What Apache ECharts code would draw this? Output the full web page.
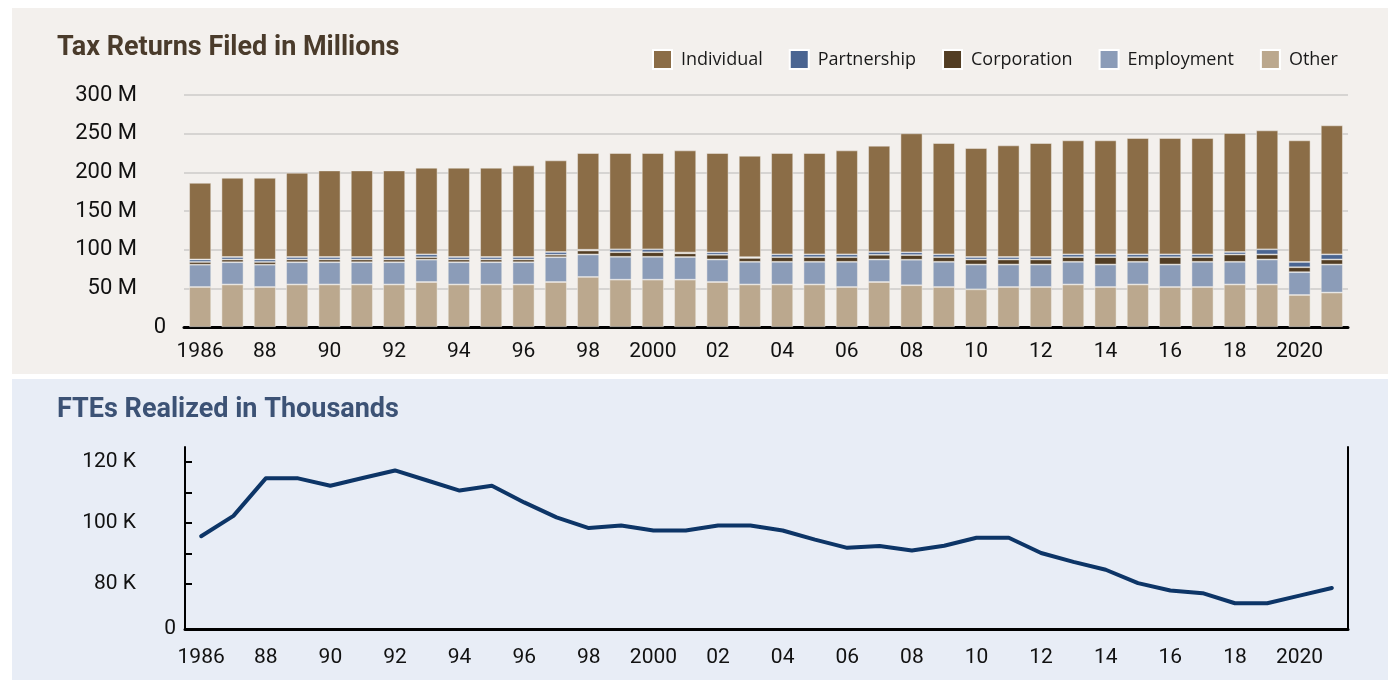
<!DOCTYPE html>
<html><head><meta charset="utf-8">
<script src="https://cdn.jsdelivr.net/npm/echarts@6.0.0/dist/echarts.min.js"></script>
<style>
html,body{margin:0;padding:0;background:#fff;overflow:hidden;}
#p1{position:absolute;left:12px;top:8px;width:1376px;height:366px;background:#f3f0ed;}
#p2{position:absolute;left:12px;top:379px;width:1376px;height:301px;background:#e8edf6;}
#chart{position:absolute;left:0;top:0;width:1388px;height:680px;}
</style></head><body>
<div id="p1"></div><div id="p2"></div><div id="chart"></div>
<script>
const years = ['1986','1987','1988','1989','1990','1991','1992','1993','1994','1995','1996','1997','1998','1999','2000','2001','2002','2003','2004','2005','2006','2007','2008','2009','2010','2011','2012','2013','2014','2015','2016','2017','2018','2019','2020','2021'];
const individual = [99.1,102.4,105.6,108.9,111.9,111.9,111.9,111.9,115.4,115.4,118.4,118.4,125.0,124.4,124.4,132.0,128.3,131.1,130.9,130.9,134.3,137.4,153.8,143.8,140.8,144.3,147.3,147.3,147.3,150.3,150.3,150.3,153.8,153.7,157.2,166.7];
const partnership = [3.2,3.2,3.2,3.2,3.2,3.2,3.2,3.7,3.2,3.2,3.2,3.5,1.0,3.8,3.8,1.0,3.2,1.0,3.7,3.7,3.7,3.6,3.6,3.7,3.2,3.2,3.2,3.7,3.7,3.7,3.7,3.7,3.2,6.7,6.8,6.7];
const corporation = [3.5,3.5,3.5,3.5,3.5,3.5,3.5,3.2,3.5,3.5,3.5,3.2,5.1,5.9,5.9,4.8,6.1,5.0,6.0,6.0,6.0,6.1,6.0,6.0,6.5,6.5,6.5,6.0,9.5,6.0,9.5,6.0,9.5,6.5,6.4,6.5];
const employment = [28.9,28.8,28.9,28.8,28.8,28.8,28.8,28.9,28.8,28.8,28.8,32.1,29.1,29.6,29.6,29.3,29.1,29.3,29.3,29.3,32.6,29.1,33.0,32.6,32.1,29.1,29.1,29.3,29.1,29.3,29.1,32.6,29.3,32.3,29.5,36.3];
const other = [51.7,55.0,51.7,55.0,55.0,55.0,55.0,58.2,55.0,55.0,55.0,58.2,64.7,61.2,61.2,61.2,58.2,55.0,55.0,55.0,51.7,58.2,54.0,51.7,48.7,51.7,51.7,55.0,51.7,55.0,51.7,51.7,55.0,55.0,41.4,44.5];
const ftes = [95.7,102.4,114.7,114.7,112.3,114.8,117.3,114.0,110.7,112.3,106.8,101.9,98.4,99.2,97.6,97.6,99.2,99.2,97.6,94.6,91.9,92.5,91.0,92.6,95.2,95.2,90.2,87.3,84.7,80.3,77.9,77.0,73.7,73.7,76.2,78.7];
const topLabelValues = [50,100,150,200,250,300];
const topZeroValue = [0];
const fteLabelValues = [80,100,120];
const fteZeroValue = [65.25];
const fteTickValues = [80,90,100,110,120];

const FONT = 'Roboto';
const colors = {Individual:'#8b6d47', Partnership:'#4a6592', Corporation:'#523d23', Employment:'#8b9cb8', Other:'#bba88e'};
function yearLabel(v){ return (v==='1986'||v==='2000'||v==='2020') ? v : v.slice(2); }

const chart = echarts.init(document.getElementById('chart'), null, {renderer:'canvas'});
function barSeries(name, data){
  return {name, type:'bar', stack:'total', data, xAxisIndex:0, yAxisIndex:0, barWidth:22,
    itemStyle:{color:colors[name], borderColor:'rgba(243,240,237,0.6)', borderWidth:0.8}};
}
const hidden = {axisLine:{show:false}, axisTick:{show:false}, splitLine:{show:false}};
chart.setOption({
  backgroundColor:'transparent',
  animation:false,
  textStyle:{fontFamily:FONT},
  title:[
    {text:'Tax Returns Filed in Millions', left:52, top:30, textStyle:{fontFamily:FONT, fontSize:27, fontWeight:'bold', color:'#4a3b2b'}},
    {text:'FTEs Realized in Thousands', left:52, top:392, textStyle:{fontFamily:FONT, fontSize:27, fontWeight:'bold', color:'#3c5275'}}
  ],
  legend:{
    data:['Individual','Partnership','Corporation','Employment','Other'],
    left:652, top:49, padding:0, itemWidth:19, itemHeight:19, itemGap:26, icon:'rect',
    itemStyle:{borderColor:'#ffffff', borderWidth:2},
    textStyle:{fontFamily:'Open Sans', fontSize:18, color:'#1a1a1a', padding:[0,0,0,4]}
  },
  grid:[
    {left:184, right:40, top:95, bottom:353},
    {left:185, right:40, top:447, bottom:51}
  ],
  xAxis:[
    {type:'category', gridIndex:0, data:years, boundaryGap:true,
     axisLine:{lineStyle:{color:'#000', width:3}}, axisTick:{show:false},
     axisLabel:{interval:1, formatter:yearLabel, fontSize:21, color:'#111', margin:14}},
    {type:'category', gridIndex:1, data:years, boundaryGap:true,
     axisLine:{lineStyle:{color:'#000', width:3}}, axisTick:{show:false},
     axisLabel:{interval:1, formatter:yearLabel, fontSize:21, color:'#111', margin:18}}
  ],
  yAxis:[
    {type:'value', gridIndex:0, position:'left', min:0, max:300, interval:50,
     axisLine:{show:false}, axisTick:{show:false},
     splitLine:{lineStyle:{color:'#d6d4d2', width:2}},
     axisLabel:{margin:47, color:'#111', fontSize:22, customValues:topLabelValues,
       formatter:v => v+' M'}},
    Object.assign({type:'value', gridIndex:0, position:'left', offset:0, min:0, max:300,
     axisLabel:{margin:18, color:'#111', fontSize:22, customValues:topZeroValue, formatter:v => '0'}}, hidden),
    {type:'value', gridIndex:1, position:'left', min:65.25, max:125,
     axisLine:{show:true, lineStyle:{color:'#000', width:2}},
     axisTick:{show:true, inside:true, length:7, lineStyle:{color:'#000', width:2}, customValues:fteTickValues},
     splitLine:{show:false},
     axisLabel:{margin:49, color:'#111', fontSize:21, customValues:fteLabelValues,
       formatter:v => Math.round(v)+' K'}},
    Object.assign({type:'value', gridIndex:1, position:'left', offset:0, min:65.25, max:125,
     axisLabel:{margin:9, color:'#111', fontSize:21, customValues:fteZeroValue, formatter:v => '0'}}, hidden),
    {type:'value', gridIndex:1, position:'right', min:65.25, max:125,
     axisLine:{show:true, lineStyle:{color:'#000', width:2}},
     axisTick:{show:false}, axisLabel:{show:false}, splitLine:{show:false}}
  ],
  series:[
    barSeries('Other', other),
    barSeries('Employment', employment),
    barSeries('Corporation', corporation),
    barSeries('Partnership', partnership),
    barSeries('Individual', individual),
    {name:'FTEs', type:'line', xAxisIndex:1, yAxisIndex:2, data:ftes, showSymbol:false, symbol:'none',
     lineStyle:{color:'#0d3567', width:4, join:'round', cap:'round'}}
  ]
});
</script>
</body></html>
